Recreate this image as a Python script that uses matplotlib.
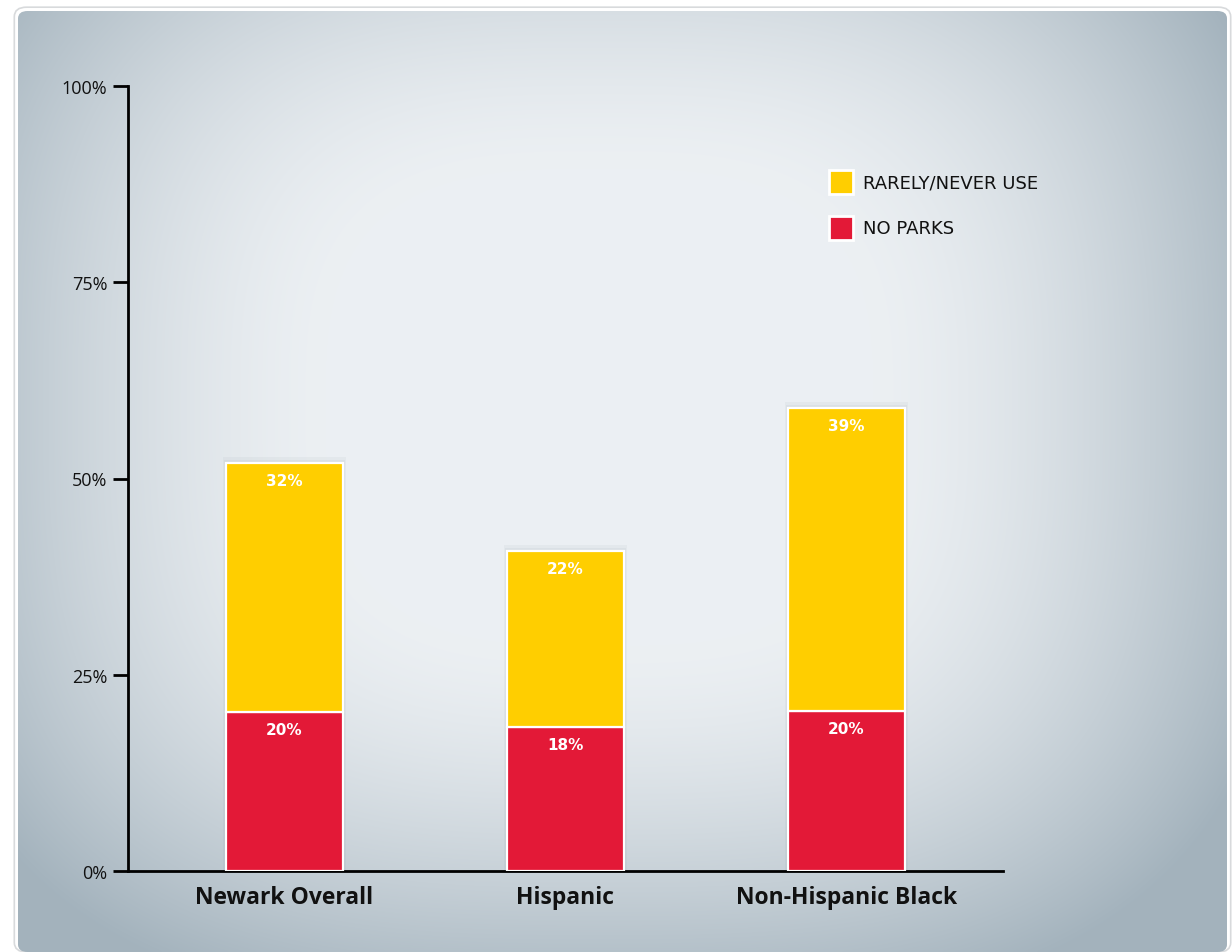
import numpy as np
import matplotlib
matplotlib.use("Agg")
import matplotlib.pyplot as plt
from matplotlib.patches import FancyBboxPatch, Rectangle

# ---- data ----
categories = ["Newark Overall", "Hispanic", "Non-Hispanic Black"]
no_parks = [20.3, 18.4, 20.4]
rarely_never = [31.7, 22.4, 38.6]
series_names = ["RARELY/NEVER USE", "NO PARKS"]
y_ticks = [0, 25, 50, 75, 100]
y_tick_labels = ["0%", "25%", "50%", "75%", "100%"]

YELLOW = "#FFCE00"
RED = "#E31937"
FONT = "Open Sans"

W, H = 1232, 953
fig = plt.figure(figsize=(W / 100, H / 100), dpi=100)
fig.patch.set_facecolor("white")

# ---- vignette background panel ----
px0, px1 = 18 / W, 1227 / W
py0, py1 = 0.0, 1 - 12 / H
bg_ax = fig.add_axes([px0, py0, px1 - px0, py1 - py0], zorder=0)
bg_ax.set_axis_off()
ny, nx = 400, 520
yy, xx = np.mgrid[0:ny, 0:nx]
dx = (xx - nx * 0.48) / (nx * 0.5)
dy = (yy - ny * 0.42) / (ny * 0.56)
r = (np.abs(dx) ** 3 + np.abs(dy) ** 3) ** (1 / 3)
t = np.clip((r - 0.45) / 0.7, 0, 1) ** 1.5
c_in = np.array([0.925, 0.940, 0.953])
c_out = np.array([0.64, 0.70, 0.74])
img = c_in[None, None, :] * (1 - t[..., None]) + c_out[None, None, :] * t[..., None]
bg_ax.imshow(img, extent=[0, 1, 0, 1], aspect="auto", interpolation="bilinear")
bg_ax.set_xlim(0, 1)
bg_ax.set_ylim(0, 1)
clip = FancyBboxPatch((0, 0), 1, 1, boxstyle="round,pad=0,rounding_size=0.008",
                      transform=bg_ax.transAxes, facecolor="none", edgecolor="none")
bg_ax.add_patch(clip)
bg_ax.images[0].set_clip_path(clip)
fig.patches.append(FancyBboxPatch((px0 - 0.003, py0), px1 - px0 + 0.006, py1 - py0 + 0.004,
                                  boxstyle="round,pad=0,rounding_size=0.01",
                                  transform=fig.transFigure, facecolor="none",
                                  edgecolor="#d8dadc", linewidth=1.2, zorder=-1))

# ---- main axes ----
ax = fig.add_axes([128 / W, 1 - 872 / H, (1003 - 128) / W, (872 - 87) / H], zorder=2)
ax.patch.set_alpha(0)
x = np.arange(len(categories))
bw = 0.416
ax.bar(x, no_parks, width=bw, color=RED, edgecolor="white", linewidth=1.6, zorder=3)
ax.bar(x, rarely_never, bottom=no_parks, width=bw, color=YELLOW, edgecolor="white",
       linewidth=1.6, zorder=3)
for xi, a, b in zip(x, no_parks, rarely_never):
    for k, al in [(0.012, 0.05), (0.006, 0.06)]:
        ax.add_patch(Rectangle((xi - bw / 2 - k, 0), bw + 2 * k, a + b + k * 60,
                               facecolor="#5a6a78", alpha=al, edgecolor="none", zorder=2))

for xi, a, b in zip(x, no_parks, rarely_never):
    ax.text(xi, a - 2.3, f"{a:.0f}%", ha="center", va="center", color="white",
            fontsize=11, fontweight="bold", family="DejaVu Sans", zorder=4)
    ax.text(xi, a + b - 2.3, f"{b:.0f}%", ha="center", va="center", color="white",
            fontsize=11, fontweight="bold", family="DejaVu Sans", zorder=4)

ax.set_xlim(-0.557, 2.557)
ax.set_ylim(0, 100)
ax.set_yticks(y_ticks)
ax.set_yticklabels(y_tick_labels, family=FONT, fontsize=13, color="#111111")
ax.set_xticks(x)
ax.set_xticklabels(categories, family=FONT, fontsize=16.5, fontweight="bold", color="#111111")
ax.tick_params(axis="y", direction="out", length=11, width=2, color="black", pad=4)
ax.tick_params(axis="x", length=0, pad=10)
for s in ["top", "right"]:
    ax.spines[s].set_visible(False)
ax.spines["left"].set_linewidth(2)
ax.spines["bottom"].set_linewidth(2)

# ---- legend (manual) ----
leg_colors = [YELLOW, RED]
leg_y = [183, 229]
for name, col, yc in zip(series_names, leg_colors, leg_y):
    fig.patches.append(Rectangle((829 / W, 1 - (yc + 12) / H), 24 / W, 24 / H,
                                 transform=fig.transFigure, facecolor=col,
                                 edgecolor="white", linewidth=2, zorder=5))
    fig.text(863 / W, 1 - yc / H, name, ha="left", va="center", family="DejaVu Sans",
             fontsize=13, color="#111111", zorder=5)

fig.savefig("out.png", dpi=100, facecolor="white")
